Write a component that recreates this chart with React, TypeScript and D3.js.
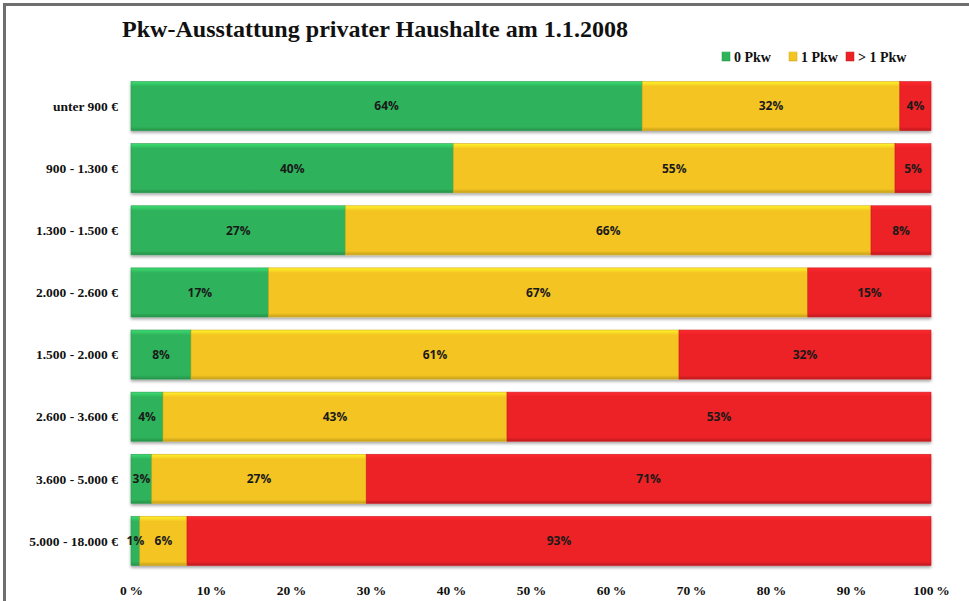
import React from "react";
import * as d3 from "d3";

// income groups, top to bottom
const categories = [
  "unter 900 €",
  "900 - 1.300 €",
  "1.300 - 1.500 €",
  "2.000 - 2.600 €",
  "1.500 - 2.000 €",
  "2.600 - 3.600 €",
  "3.600 - 5.000 €",
  "5.000 - 18.000 €",
];
const pkw0 = [63.9, 40.3, 26.8, 17.2, 7.5, 4.0, 2.6, 1.1];
const pkw1 = [32.2, 55.2, 65.7, 67.4, 61.0, 43.0, 26.8, 5.9];
const pkw2 = [3.9, 4.5, 7.5, 15.4, 31.5, 53.0, 70.6, 93.0];
const seriesNames = ["0 Pkw", "1 Pkw", "> 1 Pkw"];
const seriesColors = ["#2fb35b", "#f4c522", "#ec2227"];
const xTicks = [0, 10, 20, 30, 40, 50, 60, 70, 80, 90, 100];

const W = 969;
const H = 601;
const margin = { left: 131, right: 38, top: 75, bottom: 29 };

const App = () => {
  const svgRef = React.useRef<SVGSVGElement | null>(null);

  React.useEffect(() => {
    const svgEl = d3.select(svgRef.current);
    svgEl.selectAll("*").remove();

    const rows = categories.map((c, i) => ({ cat: c, v: [pkw0[i], pkw1[i], pkw2[i]] }));

    const x = d3.scaleLinear().domain([0, 100]).range([margin.left, W - margin.right]);
    const y = d3
      .scaleBand()
      .domain(categories)
      .range([margin.top, H - margin.bottom])
      .paddingInner(0.21)
      .paddingOuter(0.105);

    // gradients to fake the bevelled bars
    const defs = svgEl.append("defs");
    seriesColors.forEach((c, i) => {
      const g = defs
        .append("linearGradient")
        .attr("id", `grad${i}`)
        .attr("x1", 0).attr("y1", 0).attr("x2", 0).attr("y2", 1);
      const base = d3.color(c)!;
      g.append("stop").attr("offset", "0%").attr("stop-color", base.brighter(0.6).formatHex());
      g.append("stop").attr("offset", "10%").attr("stop-color", c);
      g.append("stop").attr("offset", "92%").attr("stop-color", c);
      g.append("stop").attr("offset", "100%").attr("stop-color", base.darker(0.6).formatHex());
    });
    const shadow = defs.append("filter").attr("id", "shadow").attr("x", "-5%").attr("y", "-10%").attr("width", "110%").attr("height", "130%");
    shadow.append("feDropShadow").attr("dx", 0).attr("dy", 2).attr("stdDeviation", 1.5).attr("flood-color", "#000").attr("flood-opacity", 0.35);

    // frame
    svgEl
      .append("rect")
      .attr("x", 4.5).attr("y", 4.5)
      .attr("width", W + 20).attr("height", H + 20)
      .attr("fill", "#fff")
      .attr("stroke", "#6e6e6e")
      .attr("stroke-width", 3);

    svgEl
      .append("text")
      .attr("x", 122)
      .attr("y", 37)
      .attr("font-family", "Liberation Serif, Times New Roman, serif")
      .attr("font-weight", "bold")
      .attr("font-size", 24)
      .attr("textLength", 506)
      .attr("lengthAdjust", "spacingAndGlyphs")
      .attr("fill", "#111")
      .text("Pkw-Ausstattung privater Haushalte am 1.1.2008");

    // legend
    const legendX = [722, 789, 846];
    const legend = svgEl.append("g");
    seriesNames.forEach((n, i) => {
      legend
        .append("rect")
        .attr("x", legendX[i])
        .attr("y", 52)
        .attr("width", 8)
        .attr("height", 9)
        .attr("fill", `url(#grad${i})`)
        .attr("stroke", d3.color(seriesColors[i])!.darker(0.5).formatHex())
        .attr("stroke-width", 0.5);
      legend
        .append("text")
        .attr("x", legendX[i] + 12)
        .attr("y", 62)
        .attr("font-family", "Liberation Serif, Times New Roman, serif")
        .attr("font-weight", "bold")
        .attr("font-size", 14)
        .attr("fill", "#111")
        .text(n);
    });

    const chart = svgEl.append("g");
    rows.forEach((r) => {
      let acc = 0;
      const g = chart.append("g").attr("filter", "url(#shadow)");
      r.v.forEach((v, i) => {
        g.append("rect")
          .attr("x", x(acc))
          .attr("y", y(r.cat)!)
          .attr("width", x(acc + v) - x(acc))
          .attr("height", y.bandwidth())
          .attr("fill", `url(#grad${i})`)
          .attr("stroke", d3.color(seriesColors[i])!.darker(0.4).formatHex())
          .attr("stroke-width", 0.6);
        acc += v;
      });
      acc = 0;
      r.v.forEach((v) => {
        chart
          .append("text")
          .attr("x", x(acc + v / 2))
          .attr("y", y(r.cat)! + y.bandwidth() / 2)
          .attr("dy", "0.36em")
          .attr("text-anchor", "middle")
          .attr("font-family", "Open Sans, Noto Sans, sans-serif")
          .attr("font-weight", "bold")
          .attr("font-size", 12)
          .attr("fill", "#1a1a1a")
          .text(`${Math.round(v)}%`);
        acc += v;
      });
    });

    // category labels
    svgEl
      .append("g")
      .selectAll("text")
      .data(categories)
      .enter()
      .append("text")
      .attr("x", 118)
      .attr("y", (d) => y(d)! + y.bandwidth() / 2)
      .attr("dy", "0.35em")
      .attr("text-anchor", "end")
      .attr("font-family", "Liberation Serif, Times New Roman, serif")
      .attr("font-weight", "bold")
      .attr("font-size", 13.5)
      .attr("fill", "#111")
      .text((d) => d);

    // x axis labels
    const xAxis = d3
      .axisBottom(x)
      .tickValues(xTicks)
      .tickSize(0)
      .tickPadding(0)
      .tickFormat((d) => `${d}\u2009%`);
    const xg = svgEl.append("g").attr("transform", `translate(0, ${H - 16})`).call(xAxis);
    xg.select(".domain").remove();
    xg.selectAll("text")
      .attr("font-family", "Liberation Serif, Times New Roman, serif")
      .attr("font-weight", "bold")
      .attr("font-size", 13.5)
      .attr("fill", "#111");
  }, []);

  return <svg ref={svgRef} width={W} height={H} style={{ position: "absolute", left: 0, top: 0 }} />;
};

export default App;
